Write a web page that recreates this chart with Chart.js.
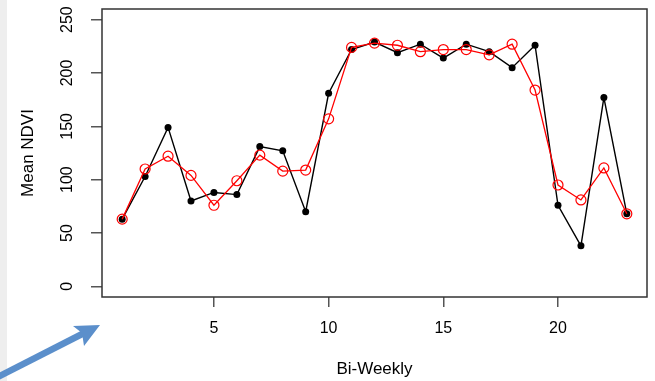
<!DOCTYPE html>
<html>
<head>
<meta charset="utf-8">
<script src="https://cdn.jsdelivr.net/npm/chart.js@4.4.1/dist/chart.umd.min.js"></script>
<style>
  html, body { margin: 0; padding: 0; background: #ffffff; }
  #wrap { width: 655px; height: 381px; position: relative; }
</style>
</head>
<body>
<div id="wrap"><canvas id="ndviChart" width="655" height="381"></canvas></div>
<script>
// bi-weekly periods and mean NDVI values
const periods = [1, 2, 3, 4, 5, 6, 7, 8, 9, 10, 11, 12, 13, 14, 15, 16, 17, 18, 19, 20, 21, 22, 23];
const rawNdvi = [63, 103, 149, 80, 88, 86, 131, 127, 70, 181, 222, 229, 219, 227, 214, 227, 220, 205, 226, 76, 38, 177, 68];
const smoothNdvi = [63, 110, 122, 104, 76, 99, 123, 108, 109, 157, 224, 228, 226, 220, 222, 222, 217, 227, 184, 95, 81, 111, 68];
const xTicks = [5, 10, 15, 20];
const yTicks = [0, 50, 100, 150, 200, 250];

const toPoints = (vals) => vals.map((v, i) => ({ x: periods[i], y: v }));

// R-style box around the plot + the grey strip and blue arrow from the slide
const decorations = {
    id: 'decorations',
    beforeDraw(chart) {
        const ctx = chart.ctx;
        ctx.save();
        ctx.fillStyle = '#eeeeee';
        ctx.fillRect(0, 0, 7, chart.height);
        ctx.restore();
    },
    afterDraw(chart) {
        const { ctx, chartArea } = chart;
        ctx.save();
        ctx.strokeStyle = '#333333';
        ctx.lineWidth = 1.5;
        ctx.strokeRect(chartArea.left, chartArea.top, chartArea.right - chartArea.left, chartArea.bottom - chartArea.top);

        // arrow pointing at the origin corner
        ctx.strokeStyle = '#5b8fcb';
        ctx.fillStyle = '#5b8fcb';
        ctx.lineWidth = 6.5;
        ctx.lineCap = 'butt';
        ctx.beginPath();
        ctx.moveTo(-4, 378);
        ctx.lineTo(88, 331);
        ctx.stroke();
        ctx.beginPath();
        ctx.moveTo(100, 325);
        ctx.lineTo(73, 326);
        ctx.lineTo(82, 333);
        ctx.lineTo(84, 346);
        ctx.closePath();
        ctx.fill();
        ctx.restore();
    }
};

const canvas = document.getElementById('ndviChart');
if (canvas) {
    new Chart(canvas.getContext('2d'), {
        type: 'line',
        data: {
            datasets: [{
                label: 'Smoothed',
                data: toPoints(smoothNdvi),
                borderColor: '#ff0000',
                borderWidth: 1.3,
                pointStyle: 'circle',
                pointRadius: 5,
                pointBorderWidth: 1.2,
                pointBorderColor: '#ff0000',
                pointBackgroundColor: 'rgba(0,0,0,0)',
                tension: 0
            },
            {
                label: 'Raw',
                data: toPoints(rawNdvi),
                borderColor: '#000000',
                borderWidth: 1.4,
                pointRadius: 3.5,
                pointBorderWidth: 0,
                pointBackgroundColor: '#000000',
                tension: 0
            }]
        },
        options: {
            responsive: false,
            animation: false,
            layout: { padding: { left: 0, top: 9, right: 8, bottom: 0 } },
            plugins: {
                legend: { display: false },
                tooltip: { enabled: false }
            },
            scales: {
                x: {
                    type: 'linear',
                    min: 0.12,
                    max: 23.88,
                    afterBuildTicks: (scale) => { scale.ticks = xTicks.map(v => ({ value: v })); },
                    afterFit: (scale) => { scale.height = 84; scale.paddingLeft = 0; scale.paddingRight = 0; },
                    border: { display: false },
                    grid: { drawOnChartArea: false, tickLength: 10, tickColor: '#555555', lineWidth: 1.5 },
                    ticks: { color: '#000000', padding: 12, maxRotation: 0, font: { family: 'Liberation Sans, Arial, sans-serif', size: 16 } },
                    title: { display: true, text: 'Bi-Weekly', color: '#000000', padding: { top: 0, bottom: 1 }, font: { family: 'Liberation Sans, Arial, sans-serif', size: 17 } }
                },
                y: {
                    min: -10,
                    max: 260,
                    afterBuildTicks: (scale) => { scale.ticks = yTicks.map(v => ({ value: v })); },
                    afterFit: (scale) => { scale.width = 102; scale.paddingTop = 0; scale.paddingBottom = 0; },
                    border: { display: false },
                    grid: { drawOnChartArea: false, tickLength: 11, tickColor: '#555555', lineWidth: 1.5 },
                    ticks: { color: '#000000', padding: 10, minRotation: 90, maxRotation: 90, crossAlign: 'center', font: { family: 'Liberation Sans, Arial, sans-serif', size: 16 } },
                    title: { display: true, text: 'Mean NDVI', color: '#000000', padding: { top: 18, bottom: 0 }, font: { family: 'Liberation Sans, Arial, sans-serif', size: 17 } }
                }
            }
        },
        plugins: [decorations]
    });
} else {
    console.error('NDVI chart canvas not found!');
}
</script>
</body>
</html>
